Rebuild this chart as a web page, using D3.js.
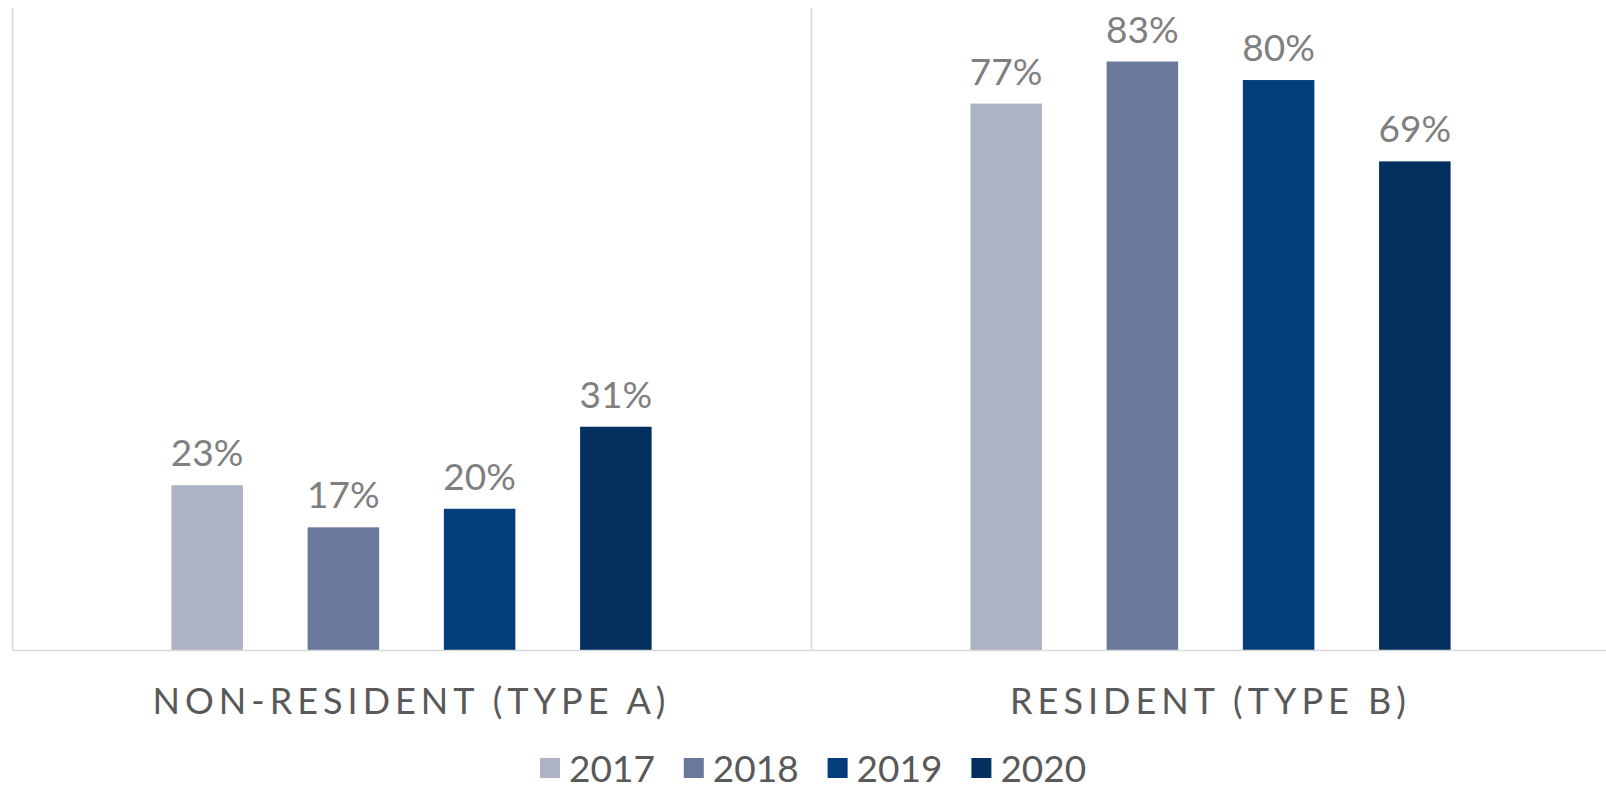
<!DOCTYPE html>
<html>
<head>
<meta charset="utf-8">
<script src="https://cdn.jsdelivr.net/npm/d3@7"></script>
<style>
  html, body { margin: 0; padding: 0; background: #fff; }
  text { font-family: Lato, "Open Sans", sans-serif; }
</style>
</head>
<body>
<div id="chart"></div>
<script>
// data
var categories = ["NON-RESIDENT (TYPE A)", "RESIDENT (TYPE B)"];
var years = ["2017", "2018", "2019", "2020"];
var values2017 = [0.231, 0.766];
var values2018 = [0.172, 0.825];
var values2019 = [0.198, 0.799];
var values2020 = [0.313, 0.685];
var colors = ["#adb2c5", "#69789b", "#033d7a", "#03305f"];

var seriesValues = [values2017, values2018, values2019, values2020];

// set the dimensions and margins of the graph
var width = 1606, height = 785;
var margin = {top: 8, left: 12, bottom: 135};
var plotRight = 1610;
var baseY = height - margin.bottom;

var svg = d3.select("#chart")
    .append("svg")
    .attr("width", width)
    .attr("height", height);

// scales
var x0 = d3.scaleBand()
    .domain(categories)
    .range([margin.left, plotRight]);

var x1 = d3.scaleBand()
    .domain(years)
    .range([0, x0.bandwidth()])
    .paddingInner(0.475)
    .paddingOuter(1.17);

var y = d3.scaleLinear()
    .domain([0, 0.9])
    .range([baseY, margin.top]);

// category separators
var seps = categories.map(function (c) { return x0(c); });
svg.append("g")
    .selectAll("line")
    .data(seps)
    .enter()
    .append("line")
    .attr("x1", function (d) { return Math.round(d) + 0.5; })
    .attr("x2", function (d) { return Math.round(d) + 0.5; })
    .attr("y1", margin.top)
    .attr("y2", baseY)
    .style("stroke", "#d9d9d9")
    .style("stroke-width", 1.5);

// bars
var rows = [];
categories.forEach(function (c, ci) {
    years.forEach(function (yr, si) {
        rows.push({cat: c, year: yr, value: seriesValues[si][ci], color: colors[si]});
    });
});

svg.append("g")
    .selectAll("rect")
    .data(rows)
    .enter()
    .append("rect")
    .attr("x", function (d) { return x0(d.cat) + x1(d.year); })
    .attr("y", function (d) { return y(d.value); })
    .attr("width", x1.bandwidth())
    .attr("height", function (d) { return baseY - y(d.value); })
    .style("fill", function (d) { return d.color; });

// value labels
svg.append("g")
    .selectAll("text")
    .data(rows)
    .enter()
    .append("text")
    .attr("x", function (d) { return x0(d.cat) + x1(d.year) + x1.bandwidth() / 2; })
    .attr("y", function (d) { return y(d.value) - 19; })
    .attr("text-anchor", "middle")
    .style("font-size", "37px")
    .style("fill", "#7f7f7f")
    .text(function (d) { return d3.format(".0%")(d.value); });

// baseline
svg.append("line")
    .attr("x1", margin.left)
    .attr("x2", width)
    .attr("y1", baseY + 0.5)
    .attr("y2", baseY + 0.5)
    .style("stroke", "#d9d9d9")
    .style("stroke-width", 1.5);

// category labels
svg.append("g")
    .selectAll("text")
    .data(categories)
    .enter()
    .append("text")
    .attr("x", function (d) { return x0(d) + x0.bandwidth() / 2; })
    .attr("y", 714)
    .attr("text-anchor", "middle")
    .style("font-size", "36px")
    .style("letter-spacing", "5px")
    .style("fill", "#595959")
    .text(function (d) { return d; });

// legend
var legend = svg.append("g")
    .attr("transform", "translate(540,0)");

var item = legend.selectAll("g")
    .data(years)
    .enter()
    .append("g")
    .attr("transform", function (d, i) { return "translate(" + (i * 143.8) + ",0)"; });

item.append("rect")
    .attr("x", 0)
    .attr("y", 758)
    .attr("width", 20)
    .attr("height", 20)
    .style("fill", function (d, i) { return colors[i]; });

item.append("text")
    .attr("x", 29)
    .attr("y", 782)
    .style("font-size", "37px")
    .style("fill", "#595959")
    .text(function (d) { return d; });
</script>
</body>
</html>
